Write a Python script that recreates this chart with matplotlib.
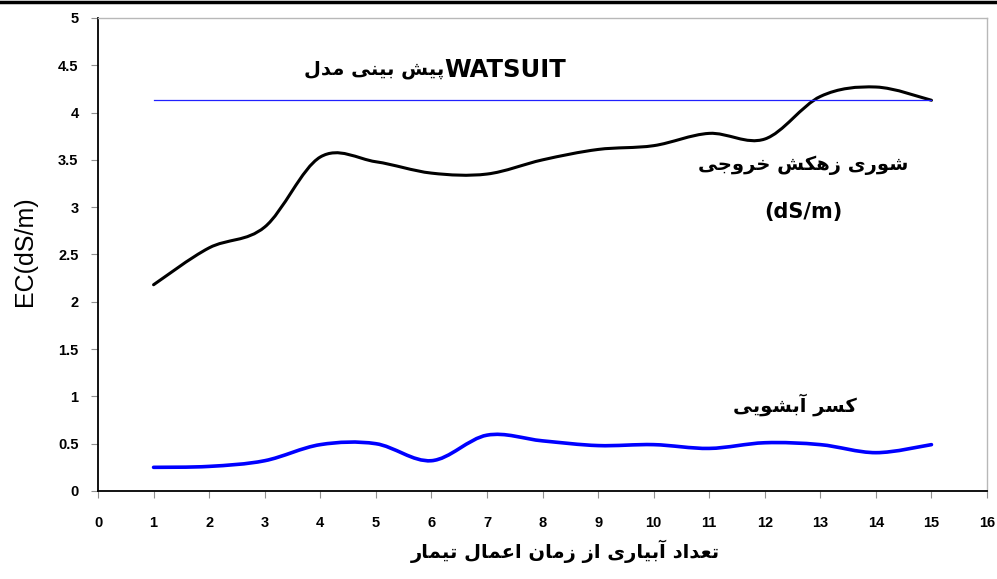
import numpy as np
import matplotlib
matplotlib.use('Agg')
import matplotlib.pyplot as plt
from matplotlib.path import Path
from matplotlib.patches import PathPatch
from matplotlib.lines import Line2D

# data
irrigation = [1, 2, 3, 4, 5, 6, 7, 8, 9, 10, 11, 12, 13, 14, 15]
drain_ec = [2.18, 2.57, 2.79, 3.53, 3.48, 3.36, 3.35, 3.50, 3.61, 3.65, 3.78, 3.72, 4.17, 4.27, 4.13]
leach_frac = [0.25, 0.26, 0.32, 0.49, 0.50, 0.32, 0.59, 0.53, 0.48, 0.49, 0.45, 0.51, 0.49, 0.405, 0.49]
watsuit_ec = 4.13

xticks = list(range(0, 17))
yticks = [0, 0.5, 1, 1.5, 2, 2.5, 3, 3.5, 4, 4.5, 5]
ytick_labels = ['0', '0.5', '1', '1.5', '2', '2.5', '3', '3.5', '4', '4.5', '5']

label_drain = 'شوری زهکش خروجی'
label_unit = '(dS/m)'
label_leach = 'کسر آبشویی'
label_model = 'پیش بینی مدل'
label_x = 'تعداد آبیاری از زمان اعمال تیمار'
label_y = 'EC(dS/m)'

# --- minimal persian shaping (no arabic_reshaper here) ---
# isolated, final, initial, medial
forms = {
    'ا': (0xFE8D, 0xFE8E, None, None),
    'آ': (0xFE81, 0xFE82, None, None),
    'د': (0xFEA9, 0xFEAA, None, None),
    'ر': (0xFEAD, 0xFEAE, None, None),
    'ز': (0xFEAF, 0xFEB0, None, None),
    'و': (0xFEED, 0xFEEE, None, None),
    'ب': (0xFE8F, 0xFE90, 0xFE91, 0xFE92),
    'پ': (0xFB56, 0xFB57, 0xFB58, 0xFB59),
    'ت': (0xFE95, 0xFE96, 0xFE97, 0xFE98),
    'ج': (0xFE9D, 0xFE9E, 0xFE9F, 0xFEA0),
    'خ': (0xFEA5, 0xFEA6, 0xFEA7, 0xFEA8),
    'س': (0xFEB1, 0xFEB2, 0xFEB3, 0xFEB4),
    'ش': (0xFEB5, 0xFEB6, 0xFEB7, 0xFEB8),
    'ع': (0xFEC9, 0xFECA, 0xFECB, 0xFECC),
    'ک': (0xFB8E, 0xFB8F, 0xFB90, 0xFB91),
    'ل': (0xFEDD, 0xFEDE, 0xFEDF, 0xFEE0),
    'م': (0xFEE1, 0xFEE2, 0xFEE3, 0xFEE4),
    'ن': (0xFEE5, 0xFEE6, 0xFEE7, 0xFEE8),
    'ه': (0xFEE9, 0xFEEA, 0xFEEB, 0xFEEC),
    'ی': (0xFBFC, 0xFBFD, 0xFBFE, 0xFBFF),
}


def shape(txt):
    out = []
    for i, c in enumerate(txt):
        if c not in forms:
            out.append(c)
            continue
        prev = txt[i - 1] if i > 0 else ''
        nxt = txt[i + 1] if i < len(txt) - 1 else ''
        jp = prev in forms and forms[prev][2] is not None
        jn = forms[c][2] is not None and nxt in forms
        f = forms[c]
        if jp and jn:
            out.append(chr(f[3]))
        elif jp:
            out.append(chr(f[1]))
        elif jn:
            out.append(chr(f[2]))
        else:
            out.append(chr(f[0]))
    return ''.join(out)[::-1]


def smooth_path(x, y):
    # excel-style smoothed line: cubic bezier, catmull-rom tangents
    pts = np.column_stack([x, y]).astype(float)
    n = len(pts)
    verts = [pts[0]]
    codes = [Path.MOVETO]
    for i in range(n - 1):
        p0 = pts[i - 1] if i > 0 else pts[i]
        p1 = pts[i]
        p2 = pts[i + 1]
        p3 = pts[i + 2] if i + 2 < n else pts[i + 1]
        verts += [p1 + (p2 - p0) / 6, p2 - (p3 - p1) / 6, p2]
        codes += [Path.CURVE4] * 3
    return Path(verts, codes)


plt.rcParams['font.family'] = ['Liberation Sans', 'DejaVu Sans']

fig = plt.figure(figsize=(9.97, 5.79), dpi=100)
ax = fig.add_axes([0.0983, 0.152, 0.8917, 0.817])

ax.add_patch(PathPatch(smooth_path(irrigation, drain_ec), fill=False, edgecolor='black', lw=2.2, capstyle='round'))
ax.add_patch(PathPatch(smooth_path(irrigation, leach_frac), fill=False, edgecolor='#0000ff', lw=2.6, capstyle='round'))
ax.plot([irrigation[0], irrigation[-1]], [watsuit_ec, watsuit_ec], color='#2020ff', lw=0.9)

ax.set_xlim(0, 16)
ax.set_ylim(0, 5)
ax.set_xticks(xticks)
ax.set_yticks(yticks)
ax.set_yticklabels(ytick_labels)
for lab in ax.get_xticklabels() + ax.get_yticklabels():
    lab.set_fontweight('bold')
    lab.set_fontsize(10.5)
ax.tick_params(axis='y', length=5, color='#909090', pad=9)
ax.tick_params(axis='x', length=5, color='#909090', pad=13)

for s in ['left', 'bottom']:
    ax.spines[s].set_color('black')
    ax.spines[s].set_linewidth(1.3)
for s in ['top', 'right']:
    ax.spines[s].set_color('#b8b8b8')
    ax.spines[s].set_linewidth(1.0)

ax.set_ylabel(label_y, fontsize=18)
ax.yaxis.set_label_coords(-0.069, 0.507)

fa = ['DejaVu Sans']
ax.text(6.23, 4.45, 'WATSUIT', fontsize=17.5, fontweight='bold', ha='left', va='center', family=fa)
ax.text(6.23, 4.45, shape(label_model), fontsize=14, fontweight='bold', ha='right', va='center', family=fa)
ax.text(12.7, 3.44, shape(label_drain), fontsize=14, fontweight='bold', ha='center', va='center', family=fa)
ax.text(12.7, 2.95, label_unit, fontsize=15, fontweight='bold', ha='center', va='center', family=fa)
ax.text(12.55, 0.91, shape(label_leach), fontsize=14, fontweight='bold', ha='center', va='center', family=fa)
fig.text(0.567, 0.048, shape(label_x), fontsize=14, fontweight='bold', ha='center', va='center', family=fa)

# thick rule across the top of the page
fig.add_artist(Line2D([0, 1], [0.996, 0.996], color='black', lw=2.5, transform=fig.transFigure))

fig.savefig('out.png', dpi=100)
